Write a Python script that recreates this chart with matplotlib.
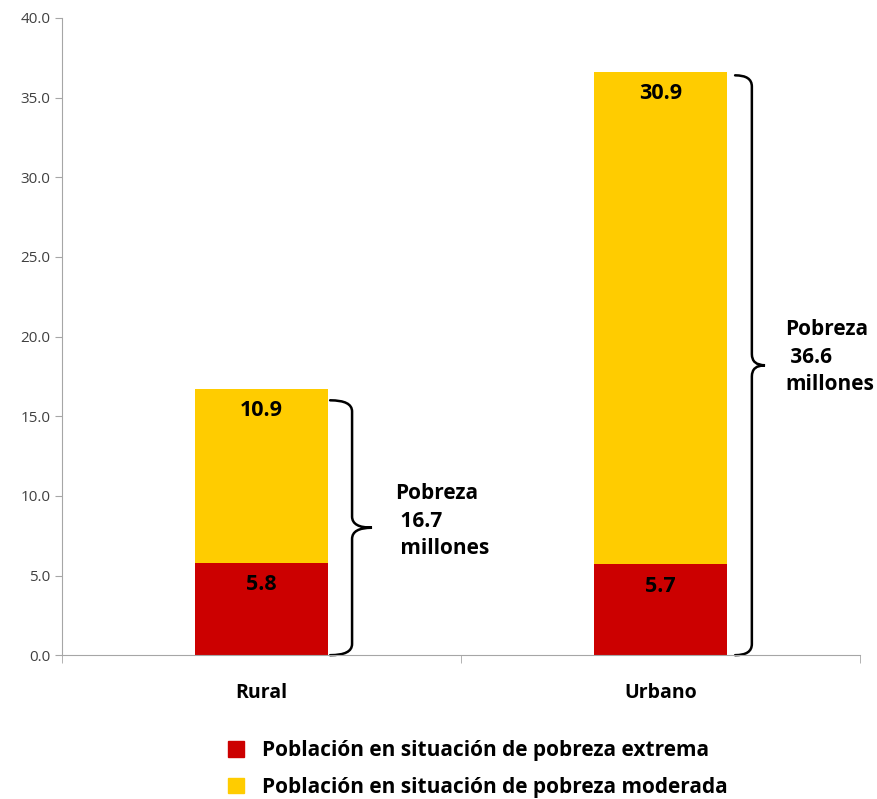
import numpy as np
import matplotlib.pyplot as plt
from matplotlib.path import Path
from matplotlib.patches import PathPatch, Patch

# ---------------------------------- Data ---------------------------------- #
categorias = ['Rural', 'Urbano']
extrema = [5.8, 5.7]
moderada = [10.9, 30.9]
totales = [16.7, 36.6]
etiquetas_leyenda = ['Población en situación de pobreza extrema',
                     'Población en situación de pobreza moderada']

c_extrema = '#CC0000'
c_moderada = '#FFCC00'
gris = '#A6A6A6'

plt.rcParams['font.family'] = ['Open Sans', 'DejaVu Sans']


def brace(ax, x0, ytop, ybot, w=0.055, tip=0.05, r=0.7):
    # llave derecha en coordenadas de datos
    x1 = x0 + w
    ym = (ytop + ybot) / 2
    verts = [(x0, ytop), (x1, ytop), (x1, ytop - r),
             (x1, ym + r), (x1, ym), (x1 + tip, ym),
             (x1, ym), (x1, ym - r),
             (x1, ybot + r), (x1, ybot), (x0, ybot)]
    codes = [Path.MOVETO, Path.CURVE3, Path.CURVE3,
             Path.LINETO, Path.CURVE3, Path.CURVE3,
             Path.CURVE3, Path.CURVE3,
             Path.LINETO, Path.CURVE3, Path.CURVE3]
    ax.add_patch(PathPatch(Path(verts, codes), fc='none', ec='black',
                           lw=1.8, clip_on=False, capstyle='round'))
    return x1 + tip, ym


fig = plt.figure(figsize=(8.77, 7.99), dpi=100)
ax = fig.add_axes([0.0707, 0.180, 0.9099, 0.7975])

x = np.arange(len(categorias))
ax.bar(x, extrema, width=0.333, color=c_extrema, zorder=2)
ax.bar(x, moderada, width=0.333, bottom=extrema, color=c_moderada, zorder=2)

for i in range(len(categorias)):
    ax.text(x[i], extrema[i] - 0.7, f'{extrema[i]:.1f}', ha='center', va='top',
            fontsize=15.5, fontweight='bold')
    ax.text(x[i], extrema[i] + moderada[i] - 0.7, f'{moderada[i]:.1f}',
            ha='center', va='top', fontsize=15.5, fontweight='bold')

# llaves y textos de total
brace(ax, 0.172, totales[0] - 0.7, 0.0, w=0.055, tip=0.05)
ax.text(0.335, 8.4, f'Pobreza\n {totales[0]:.1f}\n millones', ha='left',
        va='center', fontsize=15, fontweight='bold', linespacing=1.4)
brace(ax, 1.187, totales[1] - 0.2, 0.0, w=0.042, tip=0.033)
ax.text(1.312, 18.7, f'Pobreza\n {totales[1]:.1f}\nmillones', ha='left',
        va='center', fontsize=15, fontweight='bold', linespacing=1.4)

ax.set_xlim(-0.5, 1.5)
ax.set_ylim(0, 40)
ax.set_yticks(np.arange(0, 40.1, 5))
ax.set_yticklabels([f'{v:.1f}' for v in np.arange(0, 40.1, 5)])
ax.set_xticks(x)
ax.set_xticklabels(categorias, fontsize=14, fontweight='bold')
ax.set_xticks([-0.5, 0.5, 1.5], minor=True)
ax.tick_params(axis='x', which='major', length=0, pad=20)
ax.tick_params(axis='x', which='minor', length=6, color=gris, direction='out')
ax.tick_params(axis='y', length=5, color=gris, labelsize=11, labelcolor='#404040')

for s in ['top', 'right']:
    ax.spines[s].set_visible(False)
for s in ['left', 'bottom']:
    ax.spines[s].set_color(gris)

handles = [Patch(color=c_extrema), Patch(color=c_moderada)]
fig.legend(handles, etiquetas_leyenda, loc='upper center',
           bbox_to_anchor=(0.545, 0.097), frameon=False, ncol=1,
           prop={'size': 15, 'weight': 'bold'}, handlelength=0.75,
           handleheight=0.75, handletextpad=0.9, labelspacing=0.75)

plt.savefig('out.png', dpi=100)
